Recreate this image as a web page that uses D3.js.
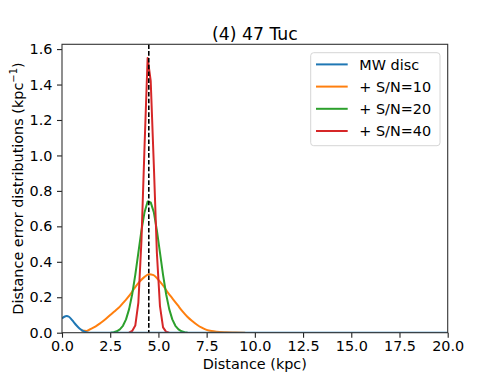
<!DOCTYPE html>
<html>
<head>
<meta charset="utf-8">
<script src="https://cdn.jsdelivr.net/npm/d3@7.9.0/dist/d3.min.js"></script>
<style>
  body { margin: 0; background: #fff; }
  svg { display: block; font-family: "DejaVu Sans", sans-serif; }
</style>
</head>
<body>
<svg id="chart" width="498" height="374"></svg>
<script>
// --- data ---
const title = '(4) 47 Tuc';
const clusterDist = 4.5;

const xTicks = [0, 2.5, 5, 7.5, 10, 12.5, 15, 17.5, 20];
const yTicks = [0, 0.2, 0.4, 0.6, 0.8, 1.0, 1.2, 1.4, 1.6];

// MW disc prior
const discX = [0, 0.12, 0.24, 0.36, 0.48, 0.6, 0.72, 0.84, 0.96, 1.08, 1.2, 1.32, 1.5, 20];
const discY = [0.08, 0.09, 0.094, 0.09, 0.077, 0.061, 0.045, 0.031, 0.019, 0.01, 0.004, 0.001, 0, 0];

// + S/N=10
const sn10X = [1.0, 1.28, 1.5, 1.75, 2.0, 2.25, 2.5, 2.75, 3.0, 3.25, 3.5, 3.75, 4.0, 4.25, 4.5,
               4.75, 5.0, 5.25, 5.5, 5.75, 6.0, 6.25, 6.5, 6.75, 7.0, 7.25, 7.5, 7.75, 8.0, 8.5, 9.0, 9.5];
const sn10Y = [0.012, 0.01, 0.022, 0.036, 0.055, 0.076, 0.1, 0.123, 0.147, 0.178, 0.21, 0.25, 0.285, 0.312, 0.33,
               0.325, 0.298, 0.265, 0.225, 0.19, 0.155, 0.12, 0.09, 0.066, 0.045, 0.028, 0.016, 0.009, 0.005, 0.002, 0.001, 0];

// + S/N=20
const sn20X = [2.52, 2.68, 2.84, 3.0, 3.16, 3.32, 3.48, 3.64, 3.8, 3.96, 4.12, 4.28, 4.44, 4.6,
               4.76, 4.92, 5.08, 5.24, 5.4, 5.56, 5.72, 5.88, 6.04, 6.2, 6.36, 6.52];
const sn20Y = [0, 0.003, 0.008, 0.019, 0.039, 0.075, 0.133, 0.217, 0.326, 0.452, 0.577, 0.68, 0.74, 0.735,
               0.68, 0.577, 0.452, 0.326, 0.217, 0.133, 0.075, 0.039, 0.019, 0.008, 0.003, 0];

// + S/N=40
const sn40X = [3.48, 3.64, 3.8, 3.96, 4.12, 4.28, 4.44, 4.6, 4.76, 4.92, 5.08, 5.24, 5.4, 5.56];
const sn40Y = [0, 0.01, 0.04, 0.17, 0.52, 1.05, 1.55, 1.42, 0.95, 0.45, 0.15, 0.03, 0.005, 0];

const series = [
  { name: 'MW disc',    x: discX, y: discY, color: '#1f77b4', smooth: true },
  { name: '+ S/N=10',   x: sn10X, y: sn10Y, color: '#ff7f0e', smooth: true },
  { name: '+ S/N=20',   x: sn20X, y: sn20Y, color: '#2ca02c', smooth: false },
  { name: '+ S/N=40',   x: sn40X, y: sn40Y, color: '#d62728', smooth: false }
];

// --- layout ---
const plot = { left: 62, right: 447.7, top: 44.3, bottom: 332.7 };
const fontSize = '14.4px';
const svg = d3.select('#chart');

const x = d3.scaleLinear().domain([0, 20]).range([plot.left, plot.right]);
const y = d3.scaleLinear().domain([0, 1.627]).range([plot.bottom, plot.top]);

svg.append('clipPath').attr('id', 'clip')
  .append('rect')
  .attr('x', plot.left).attr('y', plot.top)
  .attr('width', plot.right - plot.left).attr('height', plot.bottom - plot.top);

// axes
const fmt = d3.format('.1f');
const xAxis = svg.append('g')
  .attr('transform', `translate(0,${plot.bottom})`)
  .call(d3.axisBottom(x).tickValues(xTicks).tickFormat(fmt).tickSize(5).tickPadding(3.3));
const yAxis = svg.append('g')
  .attr('transform', `translate(${plot.left},0)`)
  .call(d3.axisLeft(y).tickValues(yTicks).tickFormat(fmt).tickSize(5).tickPadding(4.5));

[xAxis, yAxis].forEach(g => {
  g.select('.domain').remove();
  g.selectAll('line').attr('stroke', '#222').attr('stroke-width', 1.1);
  g.selectAll('text').attr('fill', '#000').style('font-size', fontSize)
    .style('font-family', '"DejaVu Sans", sans-serif');
});

// lines: disc last so its zero baseline shows on top
const lines = svg.append('g').attr('clip-path', 'url(#clip)');
const drawOrder = [1, 2, 3, 0];
drawOrder.forEach(i => {
  const s = series[i];
  const pts = s.x.map((v, j) => [v, s.y[j]]);
  const gen = d3.line()
    .x(d => x(d[0])).y(d => y(d[1]))
    .curve(s.smooth ? d3.curveMonotoneX : d3.curveLinear);
  lines.append('path')
    .attr('d', gen(pts))
    .attr('fill', 'none')
    .attr('stroke', s.color)
    .attr('stroke-width', 2)
    .attr('stroke-linejoin', 'round');
});

// cluster distance marker
lines.append('line')
  .attr('x1', x(clusterDist)).attr('x2', x(clusterDist))
  .attr('y1', plot.top).attr('y2', plot.bottom)
  .attr('stroke', '#000').attr('stroke-width', 1.6)
  .attr('stroke-dasharray', '4.6,2.2');

// frame
svg.append('rect')
  .attr('x', plot.left).attr('y', plot.top)
  .attr('width', plot.right - plot.left).attr('height', plot.bottom - plot.top)
  .attr('fill', 'none').attr('stroke', '#333').attr('stroke-width', 1.1);

// title and axis labels
svg.append('text')
  .attr('x', (plot.left + plot.right) / 2).attr('y', 39.5)
  .attr('text-anchor', 'middle').style('font-size', '17.3px')
  .text(title);

svg.append('text')
  .attr('x', (plot.left + plot.right) / 2).attr('y', 369)
  .attr('text-anchor', 'middle').style('font-size', fontSize)
  .text('Distance (kpc)');

const yl = svg.append('text')
  .attr('transform', `translate(22.5,${(plot.top + plot.bottom) / 2}) rotate(-90)`)
  .attr('text-anchor', 'middle').style('font-size', fontSize);
yl.append('tspan').text('Distance error distributions (kpc');
yl.append('tspan').attr('dy', -5.5).style('font-size', '10px').text('\u22121');
yl.append('tspan').attr('dy', 5.5).text(')');

// legend
const legend = svg.append('g');
legend.append('rect')
  .attr('x', 310.7).attr('y', 52.7).attr('width', 129.3).attr('height', 93)
  .attr('rx', 3).attr('fill', '#fff').attr('fill-opacity', 0.8)
  .attr('stroke', '#d6d6d6').attr('stroke-width', 1);
series.forEach((s, i) => {
  const ry = 64.4 + i * 22.2;
  legend.append('line')
    .attr('x1', 316).attr('x2', 347.7).attr('y1', ry).attr('y2', ry)
    .attr('stroke', s.color).attr('stroke-width', 2);
  legend.append('text')
    .attr('x', 359.3).attr('y', ry + 5.2)
    .style('font-size', fontSize)
    .text(s.name);
});
</script>
</body>
</html>
